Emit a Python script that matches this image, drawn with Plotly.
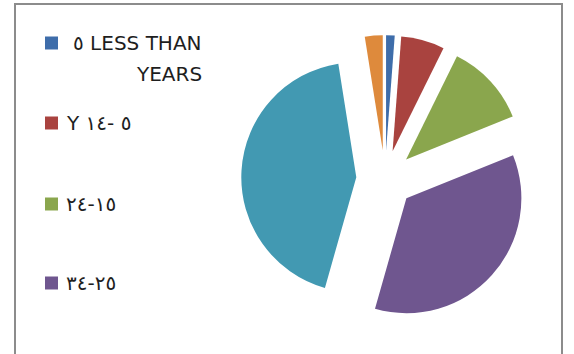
import plotly.graph_objects as go

# ---- data ----
labels = ["٥ LESS THAN YEARS", "Y ١٤- ٥", "٢٤-١٥", "٣٤-٢٥", "٤٤-٣٥", "+٤٥"]
values = [1.2, 6.1, 11.6, 35.5, 43.1, 2.5]
colors = ["#3E6DAA", "#A9433F", "#8AA64D", "#6F568F", "#4299B2", "#DE8A3C"]
legend_count = 4  # only the first four entries fit in the reference legend

W, H = 574, 354
cx, cy, r, pull = 385, 179, 115, 0.25
box = 2 * r * (1 + pull)

fig = go.Figure()
fig.add_trace(go.Pie(
    labels=labels, values=values, sort=False, direction="clockwise", rotation=0,
    marker=dict(colors=colors, line=dict(width=0)),
    pull=[pull] * len(values), textinfo="none", hoverinfo="label+percent",
    showlegend=False,
    domain=dict(x=[(cx - box / 2) / W, (cx + box / 2) / W],
                y=[1 - (cy + box / 2) / H, 1 - (cy - box / 2) / H]),
))

LRO, PDF = "\u202D", "\u202C"
font = dict(family="DejaVu Sans, Noto Sans", size=20, color="#1E1E1E")
shapes = [dict(type="rect", xref="paper", yref="paper",
               x0=15 / W, x1=562 / W, y0=-0.05, y1=1 - 4 / H,
               line=dict(color="#8C8C8C", width=2), fillcolor="rgba(0,0,0,0)")]
annotations = []
rows_y = [43, 123, 204, 283]
for i in range(legend_count):
    yc = rows_y[i]
    shapes.append(dict(type="rect", xref="paper", yref="paper",
                       x0=45 / W, x1=58 / W, y0=1 - (yc + 6.5) / H, y1=1 - (yc - 6.5) / H,
                       line=dict(width=0), fillcolor=colors[i]))
    if i == 0:
        words = labels[0].rsplit(" ", 1)
        annotations.append(dict(xref="paper", yref="paper", x=204 / W, y=1 - yc / H,
                                xanchor="right", yanchor="middle", showarrow=False,
                                text=LRO + words[0] + PDF, font=font))
        annotations.append(dict(xref="paper", yref="paper", x=204 / W, y=1 - 74 / H,
                                xanchor="right", yanchor="middle", showarrow=False,
                                text=LRO + words[1] + PDF, font=font))
    else:
        annotations.append(dict(xref="paper", yref="paper", x=64 / W, y=1 - yc / H,
                                xanchor="left", yanchor="middle", showarrow=False,
                                text=LRO + labels[i] + PDF, font=font))

fig.update_layout(width=W, height=H, margin=dict(l=0, r=0, t=0, b=0),
                  paper_bgcolor="white", plot_bgcolor="white",
                  shapes=shapes, annotations=annotations)
fig.write_html("out.html", config=dict(displayModeBar=False),
               post_script="document.body.style.margin='0';document.body.style.overflow='hidden';")
